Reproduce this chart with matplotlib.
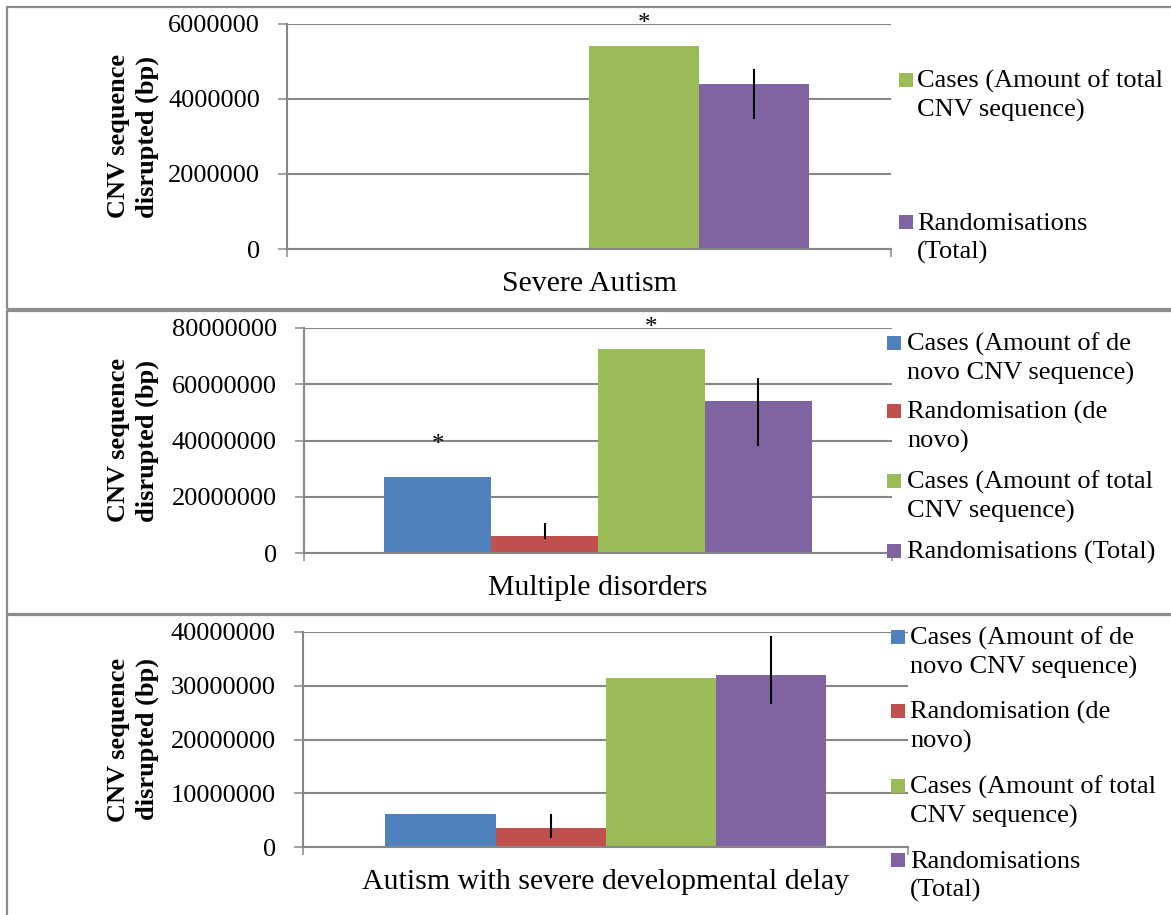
import numpy as np
import matplotlib.pyplot as plt
from matplotlib.patches import Rectangle

plt.rcParams['font.family'] = ['Liberation Serif', 'DejaVu Serif']

W, H = 1171, 915
colors = ['#4F81BD', '#C0504D', '#9BBB59', '#8064A2']

# Panel 1: Severe Autism (only total CNV series)
sa_name = 'Severe Autism'
sa_values = [None, None, 5410000, 4400000]
sa_err_low = [None, None, None, 3470000]
sa_err_high = [None, None, None, 4800000]
sa_stars = [None, None, 6000000, None]
sa_ticks = [0, 2000000, 4000000, 6000000]
sa_legend = ['Cases (Amount of total\nCNV sequence)', 'Randomisations\n(Total)']

# Panel 2: Multiple disorders
md_name = 'Multiple disorders'
md_values = [27000000, 6000000, 72500000, 54000000]
md_err_low = [None, 5100000, None, 38200000]
md_err_high = [None, 10800000, None, 62200000]
md_stars = [38400000, None, 80000000, None]
md_ticks = [0, 20000000, 40000000, 60000000, 80000000]
md_legend = ['Cases (Amount of de\nnovo CNV sequence)', 'Randomisation (de\nnovo)',
             'Cases (Amount of total\nCNV sequence)', 'Randomisations (Total)']

# Panel 3: Autism with severe developmental delay
ad_name = 'Autism with severe developmental delay'
ad_values = [6100000, 3500000, 31500000, 32000000]
ad_err_low = [None, 1700000, None, 26600000]
ad_err_high = [None, 6200000, None, 39200000]
ad_stars = [None, None, None, None]
ad_ticks = [0, 10000000, 20000000, 30000000, 40000000]
ad_legend = ['Cases (Amount of de\nnovo CNV sequence)', 'Randomisation (de\nnovo)',
             'Cases (Amount of total\nCNV sequence)', 'Randomisations\n(Total)']

FS = 19
GRID = '#878787'


def px_box(left, right, top, bottom):
    return [left / W, 1 - bottom / H, (right - left) / W, (bottom - top) / H]


def draw_panel(fig, box, name, values, lows, highs, stars, ticks,
               legend_labels, legend_colors, leg_sq_x, leg_txt_x, leg_rows):
    ax = fig.add_axes(px_box(*box))
    w = 1 / 5.5
    offsets = (np.arange(4) - 1.5) * w
    for i in range(4):
        if values[i] is not None:
            ax.bar(offsets[i], values[i], width=w, color=colors[i], zorder=2)
        if lows[i] is not None:
            ax.vlines(offsets[i], lows[i], highs[i], color='black', lw=1.5, zorder=3)
        if stars[i] is not None:
            ax.text(offsets[i], stars[i], '*', ha='center', va='center', fontsize=FS - 1, zorder=4)
    ax.set_xlim(-0.5, 0.5)
    ax.set_ylim(ticks[0], ticks[-1])
    ax.set_yticks(ticks)
    ax.set_yticklabels([str(t) for t in ticks], fontsize=FS)
    ax.set_xticks([-0.5, 0.5])
    ax.set_xticklabels(['', ''])
    ax.tick_params(axis='y', length=6.5, width=1.1, color=GRID, pad=13)
    ax.tick_params(axis='x', length=6, width=1.1, color=GRID)
    ax.yaxis.grid(True, color=GRID, lw=1.5, zorder=0)
    ax.set_axisbelow(True)
    for s in ['top', 'right']:
        ax.spines[s].set_visible(False)
    for s in ['left', 'bottom']:
        ax.spines[s].set_color(GRID)
        ax.spines[s].set_linewidth(1.5)
    ax.annotate(name, xy=(0.5, 0), xycoords='axes fraction', xytext=(0, -35 * 0.72),
                textcoords='offset points', ha='center', va='center', fontsize=21.5)
    cy = (box[2] + box[3]) / 2
    fig.text(133 / W, 1 - cy / H, 'CNV sequence\ndisrupted (bp)', rotation=90,
             ha='center', va='center', fontsize=FS, fontweight='bold',
             multialignment='center', linespacing=1.35)
    for lab, col, y in zip(legend_labels, legend_colors, leg_rows):
        fig.add_artist(Rectangle((leg_sq_x / W, 1 - (y + 7) / H), 14 / W, 14 / H,
                                 transform=fig.transFigure, color=col, lw=0))
        for k, line in enumerate(lab.split('\n')):
            fig.text(leg_txt_x / W, 1 - (y + 8 + 29 * k) / H, line, ha='left',
                     va='baseline', fontsize=FS)
    return ax


fig = plt.figure(figsize=(W / 100, H / 100), dpi=100)

for top, bottom in [(7, 309), (311, 614), (615, 930)]:
    fig.add_artist(Rectangle((7 / W, 1 - bottom / H), 1200 / W, (bottom - top) / H,
                             transform=fig.transFigure, fill=False, ec='#8c8c8c', lw=1.6))

draw_panel(fig, (287, 891, 24, 249), sa_name, sa_values, sa_err_low, sa_err_high, sa_stars,
           sa_ticks, sa_legend, colors[2:], 899, 917, [80, 222])
draw_panel(fig, (304, 892, 328, 553), md_name, md_values, md_err_low, md_err_high, md_stars,
           md_ticks, md_legend, colors, 887, 907, [343, 411, 481, 551])
draw_panel(fig, (303, 908, 632, 847), ad_name, ad_values, ad_err_low, ad_err_high, ad_stars,
           ad_ticks, ad_legend, colors, 891, 910, [637, 711, 786, 860])

fig.savefig('out.png', dpi=100)
